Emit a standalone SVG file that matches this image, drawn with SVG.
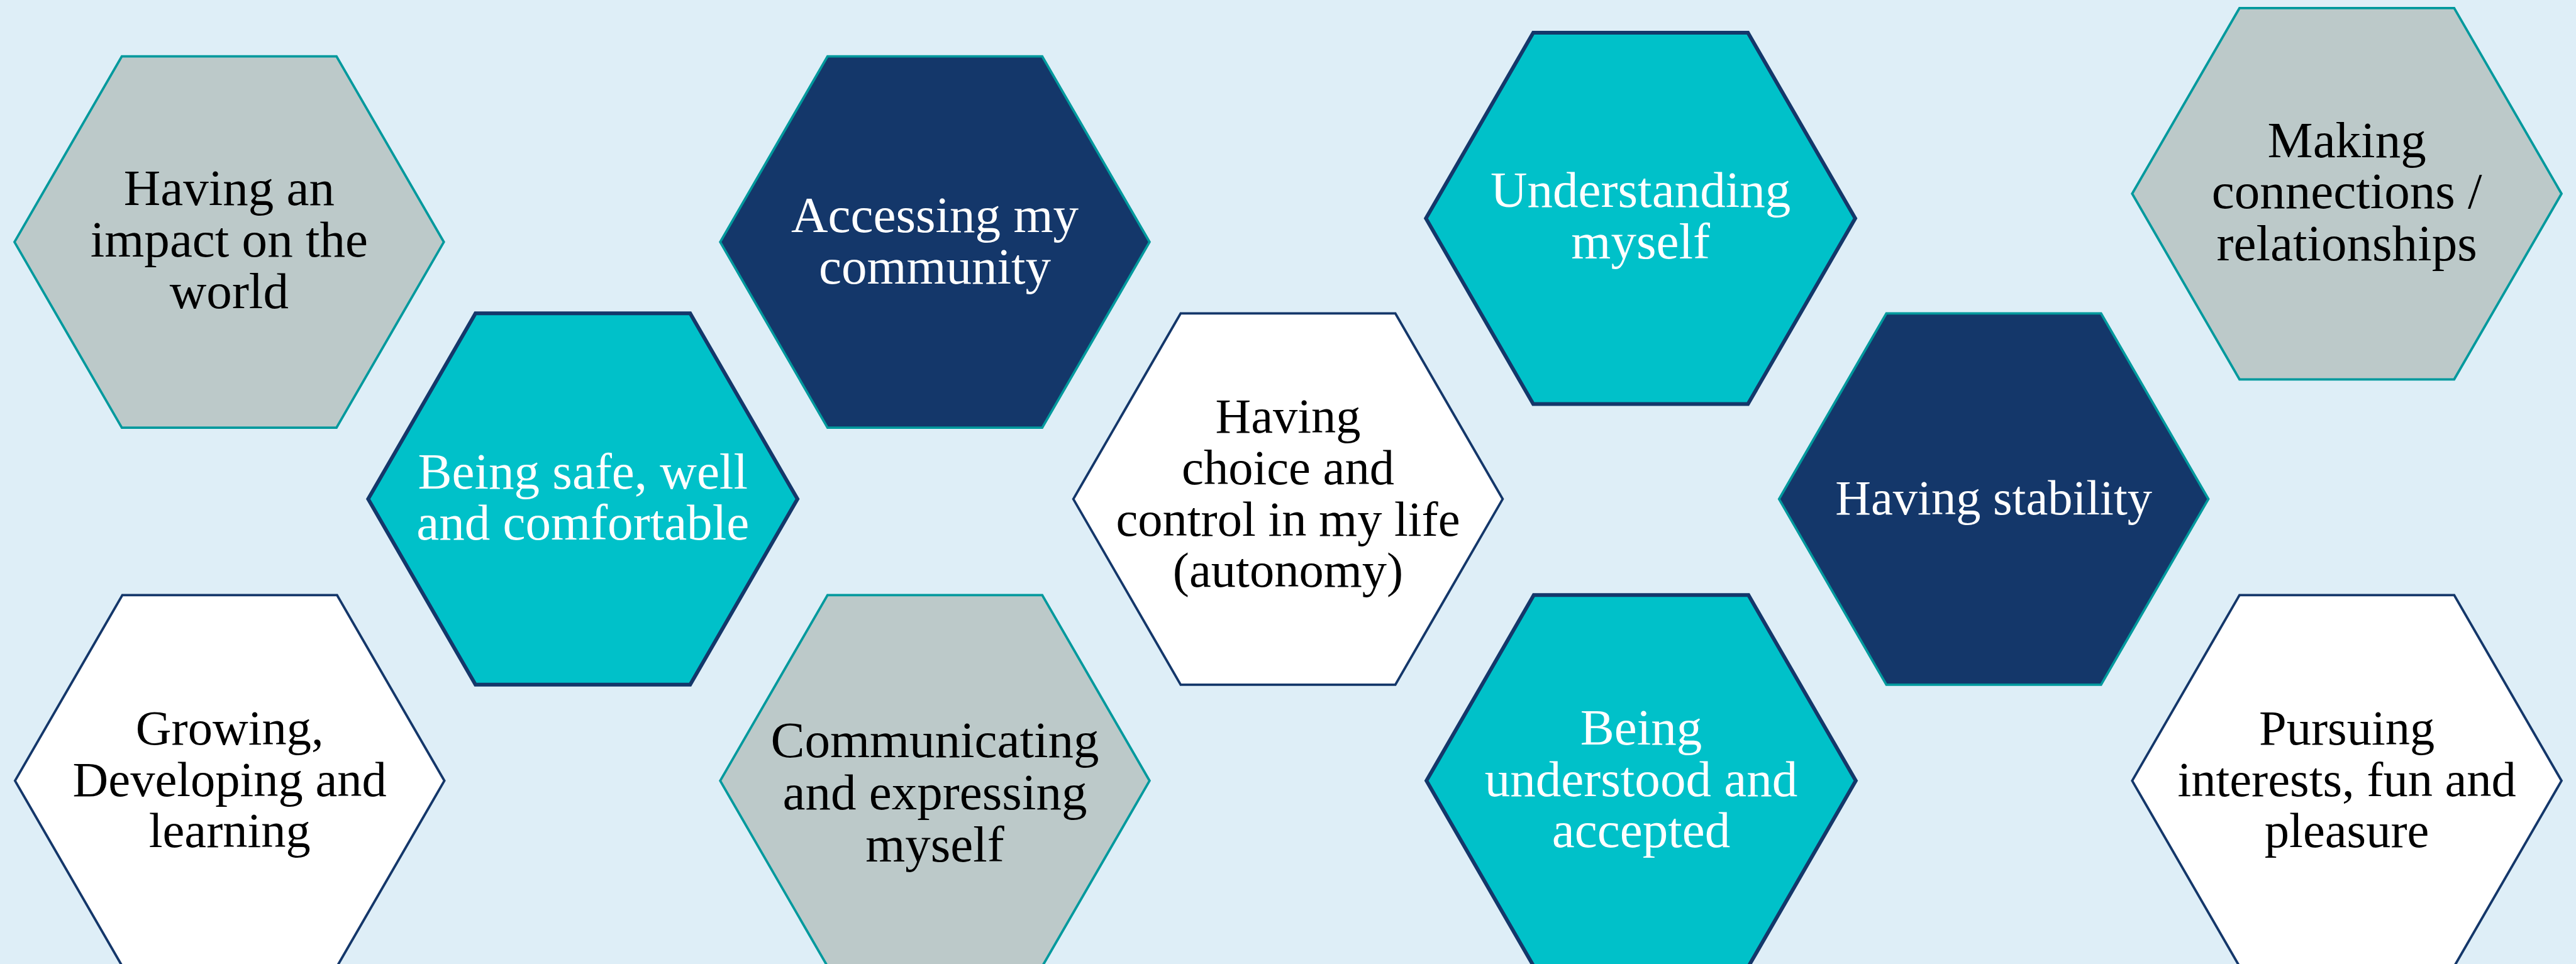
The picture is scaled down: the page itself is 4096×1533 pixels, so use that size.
<svg xmlns="http://www.w3.org/2000/svg" xmlns:xlink="http://www.w3.org/1999/xlink" width="4096" height="1533" viewBox="0 0 4096 1533">
  <defs>
    <!-- flat-topped regular hexagon, centred on the origin -->
    <polygon id="hex" points="-400,0 -200,-346 200,-346 400,0 200,346 -200,346"/>
  </defs>
  <style>
    .bg { fill: #DEEEF7; }
    .grey  { fill: #BCC9C9; stroke: #00999D; stroke-width: 4.5; }
    .teal  { fill: #00C1C9; stroke: #14376A; stroke-width: 7; }
    .navy  { fill: #14376A; stroke: #00999D; stroke-width: 4.5; }
    .white { fill: #FFFFFF; stroke: #14376A; stroke-width: 4.5; }
    text { font-family: "Liberation Serif", "Times New Roman", serif; font-size: 92px; text-anchor: middle; }
    .wide { font-size: 95px; }
    .dark  { fill: #000000; }
    .light { fill: #FFFFFF; }
  </style>

  <rect class="bg" x="0" y="0" width="4096" height="1533"/>

  <g transform="scale(0.853333)">
    <g id="impact-on-world" transform="translate(427,451)">
      <use xlink:href="#hex" class="grey"/>
      <text class="dark wide"><tspan x="0" y="-69">Having an</tspan><tspan x="0" y="27">impact on the</tspan><tspan x="0" y="123">world</tspan></text>
    </g>

    <g id="safe-well-comfortable" transform="translate(1086,930)">
      <use xlink:href="#hex" class="teal"/>
      <text class="light wide"><tspan x="0" y="-20">Being safe, well</tspan><tspan x="0" y="76">and comfortable</tspan></text>
    </g>

    <g id="accessing-community" transform="translate(1742,451)">
      <use xlink:href="#hex" class="navy"/>
      <text class="light wide"><tspan x="0" y="-18">Accessing my</tspan><tspan x="0" y="78">community</tspan></text>
    </g>

    <g id="growing-learning" transform="translate(428,1455)">
      <use xlink:href="#hex" class="white"/>
      <text class="dark"><tspan x="0" y="-68">Growing,</tspan><tspan x="0" y="28">Developing and</tspan><tspan x="0" y="124">learning</tspan></text>
    </g>

    <g id="communicating-expressing" transform="translate(1742,1455)">
      <use xlink:href="#hex" class="grey"/>
      <text class="dark wide"><tspan x="0" y="-44">Communicating</tspan><tspan x="0" y="53">and expressing</tspan><tspan x="0" y="150">myself</tspan></text>
    </g>

    <g id="choice-control" transform="translate(2400,930)">
      <use xlink:href="#hex" class="white"/>
      <text class="dark"><tspan x="0" y="-124">Having</tspan><tspan x="0" y="-28">choice and</tspan><tspan x="0" y="68">control in my life</tspan><tspan x="0" y="163">(autonomy)</tspan></text>
    </g>

    <g id="understanding-myself" transform="translate(3057,407)">
      <use xlink:href="#hex" class="teal"/>
      <text class="light wide"><tspan x="0" y="-21">Understanding</tspan><tspan x="0" y="75">myself</tspan></text>
    </g>

    <g id="understood-accepted" transform="translate(3058,1455)">
      <use xlink:href="#hex" class="teal"/>
      <text class="light wide"><tspan x="0" y="-68">Being</tspan><tspan x="0" y="28">understood and</tspan><tspan x="0" y="124">accepted</tspan></text>
    </g>

    <g id="having-stability" transform="translate(3715,930)">
      <use xlink:href="#hex" class="navy"/>
      <text class="light"><tspan x="0" y="29">Having stability</tspan></text>
    </g>

    <g id="making-connections" transform="translate(4373,361)">
      <use xlink:href="#hex" class="grey"/>
      <text class="dark wide"><tspan x="0" y="-68">Making</tspan><tspan x="0" y="27">connections /</tspan><tspan x="0" y="124">relationships</tspan></text>
    </g>

    <g id="interests-fun-pleasure" transform="translate(4373,1455)">
      <use xlink:href="#hex" class="white"/>
      <text class="dark"><tspan x="0" y="-68">Pursuing</tspan><tspan x="0" y="28">interests, fun and</tspan><tspan x="0" y="124">pleasure</tspan></text>
    </g>
  </g>
</svg>
